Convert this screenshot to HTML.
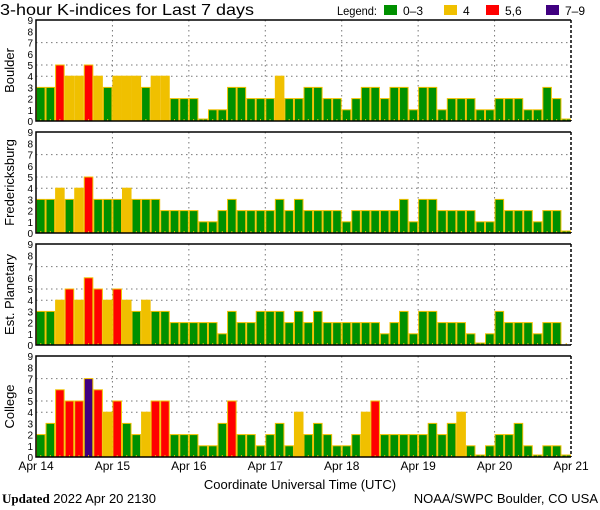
<!DOCTYPE html>
<html><head><meta charset="utf-8"><style>
body{margin:0;background:#fff;width:600px;height:510px;overflow:hidden}
svg{display:block;font-family:"Liberation Sans",sans-serif}
</style></head><body>
<svg id="c" width="600" height="510">
<text x="0" y="15" font-size="16" textLength="254" lengthAdjust="spacingAndGlyphs">3-hour K-indices for Last 7 days</text>
<g font-size="12">
<text x="337" y="15" textLength="40" lengthAdjust="spacingAndGlyphs">Legend:</text>
<rect x="384" y="5" width="13" height="10" fill="#009000"/>
<text x="403" y="15">0–3</text>
<rect x="444" y="5" width="13" height="10" fill="#f0c000"/>
<text x="463" y="15">4</text>
<rect x="486" y="5" width="13" height="10" fill="#ff0000"/>
<text x="505" y="15">5,6</text>
<rect x="546" y="5" width="13" height="10" fill="#400080"/>
<text x="565" y="15">7–9</text>
</g>
<text x="300" y="489" font-size="13" text-anchor="middle">Coordinate Universal Time (UTC)</text>
<text x="2" y="503" font-size="13"><tspan font-weight="bold" font-family="Liberation Serif,serif">Updated</tspan> 2022 Apr 20 2130</text>
<text x="598" y="503" font-size="13" text-anchor="end">NOAA/SWPC Boulder, CO USA</text>
</svg>
<script>
const panelNames = ["Boulder","Fredericksburg","Est. Planetary","College"];
const boulder = [3,3,5,4,4,5,4,3, 4,4,4,3,4,4,2,2, 2,0,1,1,3,3,2,2, 2,4,2,2,3,3,2,2, 1,2,3,3,2,3,3,1, 3,3,1,2,2,2,1,1, 2,2,2,1,1,3,2,0];
const fredericksburg = [3,3,4,3,4,5,3,3, 3,4,3,3,3,2,2,2, 2,1,1,2,3,2,2,2, 2,3,2,3,2,2,2,2, 1,2,2,2,2,2,3,1, 3,3,2,2,2,2,1,1, 3,2,2,2,1,2,2,0];
const planetary = [3,3,4,5,4,6,5,4, 5,4,3,4,3,3,2,2, 2,2,2,1,3,2,2,3, 3,3,2,3,2,3,2,2, 2,2,2,2,1,2,3,1, 3,3,2,2,2,1,0,1, 3,2,2,2,1,2,2,null];
const college = [2,3,6,5,5,7,6,4, 5,3,2,4,5,5,2,2, 2,1,1,3,5,2,2,1, 2,3,1,4,2,3,2,1, 1,2,4,5,2,2,2,2, 2,3,2,3,4,1,0,1, 2,2,3,1,0,1,1,0];
const series = [boulder,fredericksburg,planetary,college];
const dayLabels = ["Apr 14","Apr 15","Apr 16","Apr 17","Apr 18","Apr 19","Apr 20","Apr 21"];
const yTicks = [0,1,2,3,4,5,6,7,8,9];

const NS="http://www.w3.org/2000/svg";
const svg=document.getElementById('c');
const X0=36,X1=571,H=101,U=11.2;
const tops=[20,132,244,356];
const nBars=56;
const bw=(X1-X0)/nBars;
const xS=i=>X0+i*bw;
function mk(tag,attrs,parent){const e=document.createElementNS(NS,tag);for(const k in attrs)e.setAttribute(k,attrs[k]);(parent||svg).appendChild(e);return e;}
function col(v){return v<=3?"#009000":v==4?"#f0c000":v<=6?"#ff0000":"#400080";}

series.forEach((data,p)=>{
  const top=tops[p],bot=top+H;
  const yS=v=>bot-v*U;
  const g=mk('g',{});
  
  
  [4,5,7].forEach(v=>{
    const l=mk('line',{x1:X0,x2:X1,y1:yS(v),y2:yS(v),stroke:'#777','stroke-dasharray':'1.5,3.5'},g);
    
    
  });
  for(let d=1;d<7;d++){
    const l=mk('line',{x1:xS(d*8),x2:xS(d*8),y1:top,y2:bot,stroke:'#777','stroke-dasharray':'1.5,3.5'},g);
    
    
  }
  data.forEach((v,i)=>{
    if(v===null)return;
    const h=v===0?2:v*U;
    const r=mk('rect',{x:xS(i)+0.5,y:bot-h,width:bw-1,height:h,fill:col(v),stroke:'#f0c000','stroke-width':1},g);
    
    
  });
  for(let i=0;i<nBars;i++){
    const t=mk('line',{x1:xS(i)+bw/2,x2:xS(i)+bw/2,y1:bot,y2:bot-2,stroke:'#f0c000'},g);
    
    
  }
  const f1=mk('path',{d:`M${X1},${top}H${X0}V${bot}H${X1}`,fill:'none',stroke:'#000','stroke-width':1.5},g);
  
  
  const f2=mk('line',{x1:X1,x2:X1,y1:top,y2:bot,stroke:'#000','stroke-width':1.5,'stroke-dasharray':'3,2'},g);
  
  
  yTicks.forEach(v=>{
    const t=mk('text',{x:33,y:yS(v)+4,'font-size':10,'text-anchor':'end'},g);
    t.textContent=v;
    
    
  });
  const lab=mk('text',{x:0,y:0,'font-size':13,'text-anchor':'middle',transform:`translate(14,${top+H/2}) rotate(-90)`},g);
  lab.textContent=panelNames[p];
  
  
});
dayLabels.forEach((s,d)=>{
  const t=mk('text',{x:xS(d*8),y:470,'font-size':12,'text-anchor':'middle'});
  t.textContent=s;
  
  
});
</script>
</body></html>
